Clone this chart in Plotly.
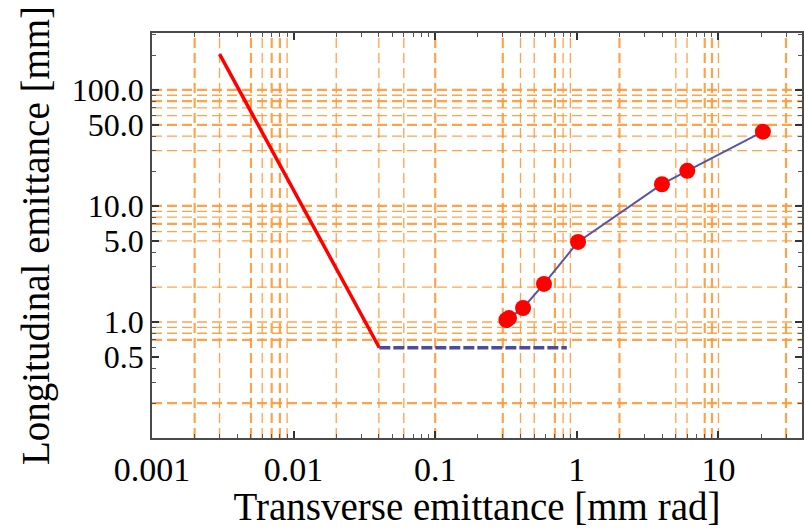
import plotly.graph_objects as go

# ---- data ----
red_line_x = [0.003, 0.0403]
red_line_y = [204, 0.6]
blue_dash_x = [0.0403, 0.85]
blue_dash_y = [0.6, 0.6]
pts_x = [0.318, 0.332, 0.417, 0.586, 1.02, 3.99, 6.02, 20.6]
pts_y = [1.04, 1.08, 1.32, 2.13, 4.9, 15.4, 20.1, 43.7]

grid_x_thick = [0.002, 0.005, 0.007, 0.008, 0.1, 0.3, 0.7, 2, 8, 9, 30]
grid_x_thin = [0.003, 0.006, 0.009, 0.02, 0.04, 0.06, 0.4, 0.5, 0.8, 0.9, 5, 6, 10]
grid_y_thick = [100, 80, 50, 10, 7, 0.7, 0.2]
grid_y_thin = [90, 70, 60, 40, 30, 9, 8, 6, 5, 2, 1, 0.9, 0.8]

x_tick_vals = [0.001, 0.01, 0.1, 1, 10]
x_tick_text = ["0.001", "0.01", "0.1", "1", "10"]
y_tick_vals = [0.5, 1, 5, 10, 50, 100]
y_tick_text = ["0.5", "1.0", "5.0", "10.0", "50.0", "100.0"]

XR = [-3, 1.59]
YR = [-1, 2.491]
xmin, xmax = 10 ** XR[0], 10 ** XR[1]
ymin, ymax = 10 ** YR[0], 10 ** YR[1]

x_minor = [m * 10 ** e for e in range(-3, 2) for m in range(2, 10) if m * 10 ** e < xmax]
y_minor = [m * 10 ** e for e in range(-1, 3) for m in range(1, 10)
           if m * 10 ** e < ymax and m * 10 ** e not in y_tick_vals]

ORANGE = "rgba(255,150,50,0.88)"
FONT = "Liberation Serif"

fig = go.Figure()


def vlines(vals):
    xs, ys = [], []
    for v in vals:
        xs += [v, v, None]
        ys += [ymin, ymax, None]
    return xs, ys


def hlines(vals):
    xs, ys = [], []
    for v in vals:
        xs += [xmin, xmax, None]
        ys += [v, v, None]
    return xs, ys


for vals, w, fn in [(grid_x_thick, 2.2, vlines), (grid_x_thin, 1.3, vlines),
                    (grid_y_thick, 2.2, hlines), (grid_y_thin, 1.3, hlines)]:
    gx, gy = fn(vals)
    fig.add_trace(go.Scatter(x=gx, y=gy, mode="lines", hoverinfo="skip",
                             line=dict(color=ORANGE, width=w, dash="10px,5px"),
                             showlegend=False))

fig.add_trace(go.Scatter(x=red_line_x, y=red_line_y, mode="lines",
                         line=dict(color="#ff0000", width=3.5), showlegend=False))
fig.add_trace(go.Scatter(x=blue_dash_x, y=blue_dash_y, mode="lines",
                         line=dict(color="#4a4aa0", width=3.5, dash="11px,3px"),
                         showlegend=False))
fig.add_trace(go.Scatter(x=pts_x, y=pts_y, mode="lines",
                         line=dict(color="#5656a8", width=2), showlegend=False))
fig.add_trace(go.Scatter(x=pts_x, y=pts_y, mode="markers",
                         marker=dict(color="#ff0000", size=16), showlegend=False))
# invisible trace for minor tick axes
fig.add_trace(go.Scatter(x=[1], y=[1], xaxis="x2", yaxis="y2", mode="markers",
                         marker=dict(opacity=0), showlegend=False, hoverinfo="skip"))

axcol = "#4a4a4a"
fig.update_layout(
    width=804, height=528,
    margin=dict(l=152, r=0, t=33, b=90),
    plot_bgcolor="white", paper_bgcolor="white",
    font=dict(family=FONT, color="black"),
    xaxis=dict(type="log", range=XR, tickvals=x_tick_vals, ticktext=x_tick_text,
               ticks="inside", ticklen=7, tickwidth=1.5, tickcolor="#333",
               showline=True, linecolor=axcol, linewidth=1.8, mirror="ticks",
               showgrid=False, zeroline=False,
               tickfont=dict(family=FONT, size=34, color="black"),
               title=dict(text="Transverse emittance [mm rad]",
                          font=dict(family=FONT, size=39, color="black"), standoff=4)),
    yaxis=dict(type="log", range=YR, tickvals=y_tick_vals, ticktext=y_tick_text,
               ticks="inside", ticklen=7, tickwidth=1.5, tickcolor="#333",
               showline=True, linecolor=axcol, linewidth=1.8, mirror="ticks",
               showgrid=False, zeroline=False,
               tickfont=dict(family=FONT, size=32, color="black"),
               title=dict(text="Longitudinal emittance [mm]",
                          font=dict(family=FONT, size=39, color="black"), standoff=10)),
    xaxis2=dict(type="log", range=XR, overlaying="x", anchor="y2", side="bottom",
                tickvals=x_minor, ticks="inside", ticklen=4, tickwidth=1.2,
                tickcolor="#555", showticklabels=False, showgrid=False,
                showline=False, mirror="ticks", zeroline=False),
    yaxis2=dict(type="log", range=YR, overlaying="y", anchor="x2", side="left",
                tickvals=y_minor, ticks="inside", ticklen=4, tickwidth=1.2,
                tickcolor="#555", showticklabels=False, showgrid=False,
                showline=False, mirror="ticks", zeroline=False),
)

fig.write_html("out.html")
